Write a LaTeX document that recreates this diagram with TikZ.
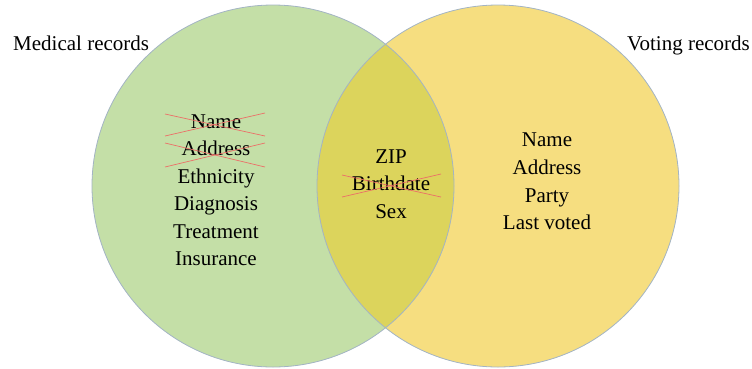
\documentclass[tikz,border=0pt]{standalone}
\usepackage{fontspec}
\setmainfont{Liberation Serif}
\definecolor{medgreen}{HTML}{C4DFA7}
\definecolor{votyellow}{HTML}{F6DE80}
\definecolor{overlapc}{HTML}{DCD45C}
\definecolor{rimc}{HTML}{A3B4C4}
\definecolor{strikec}{HTML}{EC6F68}
\begin{document}
\begin{tikzpicture}[x=1bp,y=-1bp,
  setcircle/.style={circle,minimum size=362bp,inner sep=0pt},
  item/.style={font=\fontsize{21bp}{24bp}\selectfont,inner sep=0pt,anchor=base},
  title/.style={font=\fontsize{21bp}{24bp}\selectfont,inner sep=0pt},
  strike/.style={draw=strikec,line width=0.7bp}]
\useasboundingbox (0,0) rectangle (752,368);
% circles
\node[setcircle,fill=medgreen] (med) at (273,186) {};
\node[setcircle,fill=votyellow] (vot) at (498,186) {};
\begin{scope}
  \clip (273,186) circle (181);
  \fill[overlapc] (498,186) circle (181);
\end{scope}
\node[setcircle,draw=rimc,line width=0.8bp] (medrim) at (273,186) {};
\node[setcircle,draw=rimc,line width=0.8bp] (votrim) at (498,186) {};
% titles
\node[title,anchor=base west] (tmed) at (13,50.5) {Medical records};
\node[title,anchor=base east] (tvot) at (750,50.5) {Voting records};
% medical list
\node[item] (m1) at (216,128) {Name};
\node[item] (m2) at (216,155.5) {Address};
\node[item] (m3) at (216,183) {Ethnicity};
\node[item] (m4) at (216,210.5) {Diagnosis};
\node[item] (m5) at (216,238) {Treatment};
\node[item] (m6) at (216,265.5) {Insurance};
% intersection list
\node[item] (c1) at (391,163.5) {ZIP};
\node[item] (c2) at (391,190.7) {Birthdate};
\node[item] (c3) at (391,218) {Sex};
% voting list
\node[item] (v1) at (547,146.7) {Name};
\node[item] (v2) at (547,174.5) {Address};
\node[item] (v3) at (547,202) {Party};
\node[item] (v4) at (547,229.5) {Last voted};
% strike-throughs
\draw[strike] ([shift={(-51,-14)}]m1.base) -- ([shift={(49,8)}]m1.base);
\draw[strike] ([shift={(-51,8)}]m1.base) -- ([shift={(49,-15)}]m1.base);
\draw[strike] ([shift={(-51,-12.5)}]m2.base) -- ([shift={(49,11.5)}]m2.base);
\draw[strike] ([shift={(-51,11.5)}]m2.base) -- ([shift={(49,-12.5)}]m2.base);
\draw[strike] ([shift={(-49,-15.7)}]c2.base) -- ([shift={(50,6.3)}]c2.base);
\draw[strike] ([shift={(-49,6.3)}]c2.base) -- ([shift={(50,-16.7)}]c2.base);
\end{tikzpicture}
\end{document}
